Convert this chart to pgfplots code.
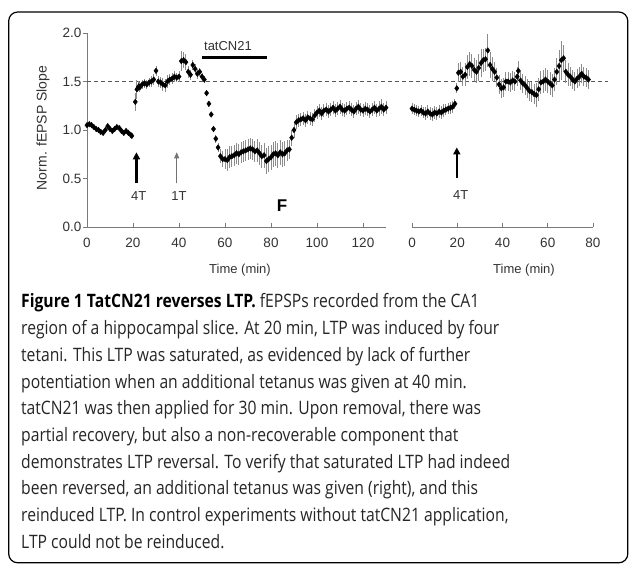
\documentclass[border=0pt]{standalone}
\usepackage{fontspec}
\setmainfont{Open Sans}[FakeStretch=0.848]
\newfontfamily\chartfont{Liberation Sans}
\usepackage{pgfplots}
\pgfplotsset{compat=1.18}
\usepackage{pgfplotstable}
\usetikzlibrary{arrows.meta}
\definecolor{axisgray}{HTML}{7A7A7A}
\definecolor{labelgray}{HTML}{333333}
\definecolor{errgray}{HTML}{8C8C8C}
\definecolor{captext}{HTML}{262626}

\pgfplotstableread{
t y e
0 1.05 0.02
1 1.06 0.02
2 1.05 0.02
3 1.03 0.02
4 1.01 0.02
5 1.00 0.02
6 0.98 0.02
7 0.97 0.02
8 1.00 0.02
9 1.04 0.02
10 1.01 0.02
11 0.99 0.02
12 1.01 0.02
13 1.03 0.02
14 1.02 0.02
15 0.99 0.02
16 0.97 0.02
17 0.99 0.02
18 0.97 0.02
19 0.95 0.02
19.5 0.94 0.03
21 1.29 0.09
21.7 1.42 0.10
22.5 1.45 0.05
23 1.44 0.05
24 1.47 0.05
25 1.48 0.05
26 1.47 0.05
27 1.49 0.05
28 1.50 0.06
29 1.52 0.06
30 1.61 0.05
31 1.50 0.06
32 1.49 0.06
33 1.47 0.07
34 1.46 0.07
35 1.50 0.07
36 1.52 0.06
37 1.53 0.06
38 1.55 0.06
39 1.54 0.05
40 1.55 0.06
41 1.71 0.10
42 1.72 0.08
43 1.70 0.08
44 1.60 0.06
45 1.57 0.05
46 1.67 0.05
47 1.63 0.05
48 1.58 0.05
49 1.60 0.04
50 1.55 0.04
51 1.52 0.04
52 1.38 0.03
53 1.27 0.03
54 1.16 0.03
55 1.01 0.03
56 0.91 0.04
57 0.82 0.05
58 0.73 0.07
59 0.70 0.08
60 0.70 0.10
61 0.69 0.11
62 0.72 0.11
63 0.73 0.11
64 0.74 0.11
65 0.76 0.11
66 0.75 0.11
67 0.77 0.11
68 0.78 0.11
69 0.79 0.11
70 0.80 0.11
71 0.81 0.11
72 0.80 0.11
73 0.78 0.11
74 0.79 0.12
75 0.76 0.12
76 0.73 0.12
77 0.74 0.13
78 0.68 0.13
79 0.70 0.13
80 0.72 0.13
81 0.75 0.13
82 0.76 0.13
83 0.74 0.13
84 0.77 0.13
85 0.75 0.13
86 0.76 0.13
87 0.79 0.11
88 0.80 0.10
89 0.92 0.08
90 1.00 0.08
91 1.08 0.07
92 1.10 0.07
93 1.11 0.07
94 1.12 0.07
95 1.10 0.07
96 1.13 0.07
97 1.12 0.07
98 1.11 0.07
99 1.15 0.07
100 1.18 0.07
101 1.20 0.07
102 1.17 0.07
103 1.20 0.07
104 1.21 0.07
105 1.19 0.07
106 1.21 0.07
107 1.23 0.07
108 1.20 0.07
109 1.22 0.07
110 1.24 0.07
111 1.21 0.07
112 1.20 0.07
113 1.22 0.07
114 1.23 0.07
115 1.21 0.07
116 1.19 0.07
117 1.22 0.07
118 1.24 0.07
119 1.21 0.07
120 1.20 0.07
121 1.22 0.07
122 1.21 0.07
123 1.19 0.07
124 1.21 0.07
125 1.23 0.07
126 1.20 0.07
127 1.22 0.08
128 1.24 0.08
129 1.21 0.07
130 1.23 0.07
}\leftdata

\pgfplotstableread{
t y e
0 1.22 0.06
1 1.21 0.06
2 1.20 0.06
3 1.19 0.06
4 1.20 0.06
5 1.18 0.06
6 1.17 0.07
7 1.19 0.07
8 1.17 0.07
9 1.16 0.07
10 1.18 0.07
11 1.17 0.07
12 1.19 0.07
13 1.18 0.07
14 1.20 0.07
15 1.21 0.06
16 1.22 0.06
17 1.23 0.06
18 1.24 0.06
19 1.27 0.05
19.8 1.43 0.05
20.5 1.59 0.10
21.5 1.60 0.10
22.5 1.55 0.10
23.5 1.57 0.12
24.5 1.65 0.12
25.5 1.68 0.12
26.5 1.66 0.12
27.5 1.62 0.12
28.5 1.60 0.12
29.5 1.64 0.14
30.5 1.69 0.14
31.5 1.72 0.12
32.5 1.73 0.12
33.5 1.82 0.17
34.5 1.67 0.13
35.5 1.63 0.12
36.5 1.60 0.10
37.5 1.54 0.10
38.5 1.47 0.10
39.5 1.43 0.10
40.5 1.44 0.10
41.5 1.50 0.10
42.5 1.50 0.10
43.5 1.49 0.10
44.5 1.51 0.10
45.5 1.50 0.10
46.5 1.55 0.10
47 1.61 0.10
48 1.51 0.10
49 1.48 0.10
50 1.46 0.10
51 1.43 0.10
52 1.40 0.10
53 1.39 0.10
54 1.37 0.10
55 1.36 0.12
56 1.42 0.12
57 1.49 0.12
58 1.50 0.12
59 1.52 0.12
60 1.50 0.12
61 1.48 0.12
62 1.46 0.12
63 1.52 0.12
64 1.60 0.14
65 1.66 0.16
66 1.72 0.20
67 1.74 0.14
68 1.60 0.12
69 1.57 0.12
70 1.55 0.10
71 1.52 0.10
72 1.50 0.10
73 1.53 0.10
74 1.55 0.10
75 1.58 0.10
76 1.55 0.10
77 1.54 0.10
78 1.52 0.10
}\rightdata

\pgfplotsset{
  panel/.style={
    scale only axis, height=194pt, ymin=0, ymax=2, clip=false,
    axis x line*=bottom,
    axis line style={draw=axisgray, line width=0.9pt, -},
    tick style={draw=axisgray, line width=0.9pt},
    major tick length=4pt,
    tick align=inside,
    tick label style={font=\chartfont\fontsize{13.5}{15}\selectfont, text=labelgray},
    /pgf/number format/assume math mode=true,
    xticklabel style={yshift=-8pt},
  },
  ltp/.style={
    only marks, mark=diamond*, mark size=2.8pt,
    mark options={draw=black, fill=black},
    error bars/.cd, y dir=both, y explicit, error mark=none,
    error bar style={draw=errgray, line width=1pt},
  },
}

\begin{document}
\begin{tikzpicture}[x=1pt, y=1pt]
\useasboundingbox (0pt,0pt) rectangle (629pt,565pt);
\fill[white] (0pt,0pt) rectangle (629pt,565pt);
\draw[line width=1.2pt, rounded corners=9pt] (8.7pt,2.2pt) rectangle (627.8pt,553pt);

% left panel
\begin{axis}[panel, at={(87pt,338pt)}, anchor=origin, width=299pt,
  xmin=0, xmax=130, xtick={0,20,...,120},
  axis y line*=left,
  ytick={0,0.5,...,2}, 
  ytick style={xshift=-4pt},
  yticklabel style={xshift=-2pt, /pgf/number format/.cd, fixed, fixed zerofill, precision=1},
]
\draw[draw=black!65, line width=0.9pt, dash pattern=on 4pt off 3pt] (axis cs:0,1.5) -- (axis cs:226.5,1.5);
\addplot[ltp] table[x=t, y=y, y error=e] {\leftdata};
\draw[-{Triangle[length=7pt,width=7pt]}, line width=2.3pt] (axis cs:21.5,0.45) -- (axis cs:21.5,0.77);
\draw[-{Triangle[length=6pt,width=5pt]}, line width=0.8pt, draw=black!55, fill=black!55] (axis cs:39,0.45) -- (axis cs:39,0.77);
\node[font=\chartfont\fontsize{13}{15}\selectfont, text=labelgray] at (axis cs:22.5,0.32) {4T};
\node[font=\chartfont\fontsize{13}{15}\selectfont, text=labelgray] at (axis cs:40,0.32) {1T};
\draw[line width=3.5pt] (axis cs:50,1.745) -- (axis cs:78.4,1.745);
\node[font=\chartfont\fontsize{13}{15}\selectfont, text=labelgray] at (axis cs:61.3,1.87) {tatCN21};
\node[font=\chartfont\bfseries\fontsize{17}{19}\selectfont] at (axis cs:84.8,0.22) {F};
\end{axis}

% right panel
\begin{axis}[panel, at={(412pt,338pt)}, anchor=origin, width=181pt,
  xmin=0, xmax=80, xtick={0,20,...,80},
  axis y line=none, ytick=\empty,
]
\addplot[ltp] table[x=t, y=y, y error=e] {\rightdata};
\draw[-{Triangle[length=7pt,width=7pt]}, line width=2.3pt] (axis cs:19.8,0.5) -- (axis cs:19.8,0.82);
\node[font=\chartfont\fontsize{13}{15}\selectfont, text=labelgray] at (axis cs:21.5,0.33) {4T};
\end{axis}

\node[rotate=90, font=\chartfont\fontsize{14}{16}\selectfont, text=labelgray] at (43pt,437pt) {Norm. fEPSP Slope};
\node[font=\chartfont\fontsize{13}{15}\selectfont, text=labelgray] at (240pt,295pt) {Time (min)};
\node[font=\chartfont\fontsize{13}{15}\selectfont, text=labelgray] at (524pt,295pt) {Time (min)};

% caption
\begin{scope}[every node/.style={anchor=base west, inner sep=0pt, font=\fontsize{18.5}{20}\selectfont, text=captext}]
\node at (21pt,257pt) {\textbf{\color{black}Figure 1 TatCN21 reverses LTP.} fEPSPs recorded from the CA1};
\node at (21pt,230.3pt) {region of a hippocampal slice. At 20 min, LTP was induced by four};
\node at (21pt,203.6pt) {tetani. This LTP was saturated, as evidenced by lack of further};
\node at (21pt,176.9pt) {potentiation when an additional tetanus was given at 40 min.};
\node at (21pt,150.2pt) {tatCN21 was then applied for 30 min. Upon removal, there was};
\node at (21pt,123.5pt) {partial recovery, but also a non-recoverable component that};
\node at (21pt,96.8pt) {demonstrates LTP reversal. To verify that saturated LTP had indeed};
\node at (21pt,70.1pt) {been reversed, an additional tetanus was given (right), and this};
\node at (21pt,43.4pt) {reinduced LTP. In control experiments without tatCN21 application,};
\node at (21pt,16.7pt) {LTP could not be reinduced.};
\end{scope}
\end{tikzpicture}
\end{document}
